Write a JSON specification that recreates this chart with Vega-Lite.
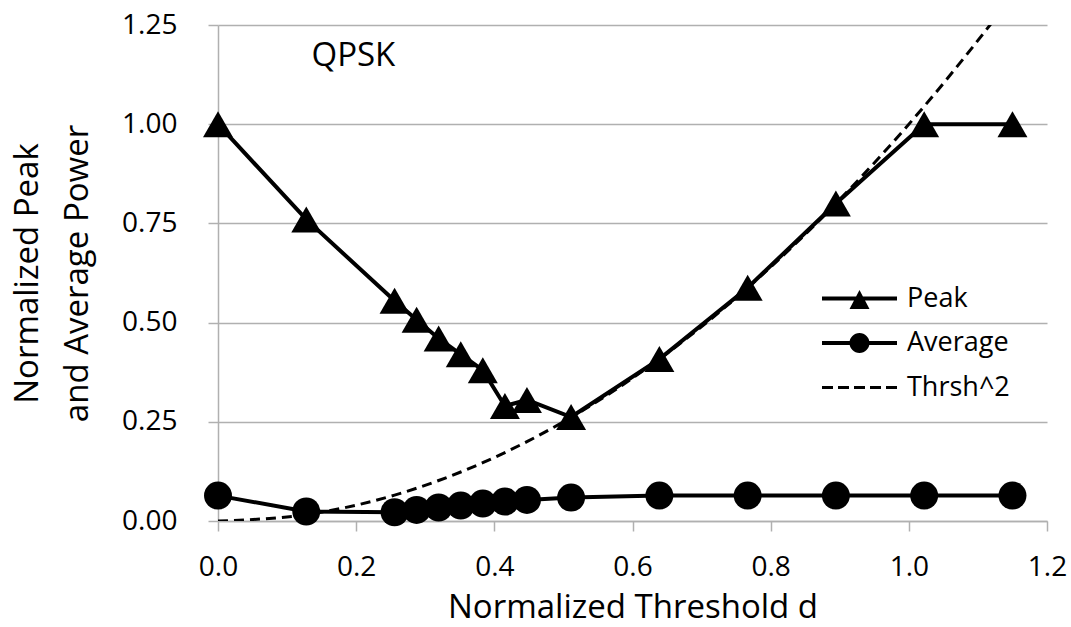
{
  "$schema": "https://vega.github.io/schema/vega-lite/v6.json",
  "width": 829,
  "height": 496,
  "autosize": {"type": "none"},
  "padding": {"left": 218, "top": 25, "right": 24, "bottom": 106},
  "background": "white",
  "config": {
    "font": "Open Sans",
    "view": {"stroke": null},
    "axis": {
      "labelColor": "black",
      "titleColor": "black",
      "titleFontWeight": "normal",
      "labelFont": "Open Sans",
      "titleFont": "Open Sans",
      "domainColor": "#b0b0b0",
      "domainWidth": 1.5,
      "tickColor": "#b0b0b0",
      "tickWidth": 1.5,
      "tickSize": 10,
      "gridColor": "#b0b0b0",
      "gridWidth": 1.5,
      "labelFontSize": 28,
      "titleFontSize": 33,
      "labelOverlap": false,
      "labelFlush": false
    }
  },
  "datasets": {
    "main": [
      {"d": 0.0, "series": "Peak", "v": 1.0},
      {"d": 0.1278, "series": "Peak", "v": 0.76},
      {"d": 0.2556, "series": "Peak", "v": 0.555},
      {"d": 0.2875, "series": "Peak", "v": 0.507},
      {"d": 0.3194, "series": "Peak", "v": 0.46},
      {"d": 0.3514, "series": "Peak", "v": 0.42},
      {"d": 0.3833, "series": "Peak", "v": 0.38},
      {"d": 0.4153, "series": "Peak", "v": 0.29},
      {"d": 0.4472, "series": "Peak", "v": 0.305},
      {"d": 0.5111, "series": "Peak", "v": 0.262},
      {"d": 0.6389, "series": "Peak", "v": 0.408},
      {"d": 0.7667, "series": "Peak", "v": 0.588},
      {"d": 0.8944, "series": "Peak", "v": 0.8},
      {"d": 1.0222, "series": "Peak", "v": 1.0},
      {"d": 1.15, "series": "Peak", "v": 1.0},
      {"d": 0.0, "series": "Average", "v": 0.064},
      {"d": 0.1278, "series": "Average", "v": 0.024},
      {"d": 0.2556, "series": "Average", "v": 0.022},
      {"d": 0.2875, "series": "Average", "v": 0.028},
      {"d": 0.3194, "series": "Average", "v": 0.034},
      {"d": 0.3514, "series": "Average", "v": 0.039},
      {"d": 0.3833, "series": "Average", "v": 0.044},
      {"d": 0.4153, "series": "Average", "v": 0.049},
      {"d": 0.4472, "series": "Average", "v": 0.053},
      {"d": 0.5111, "series": "Average", "v": 0.059},
      {"d": 0.6389, "series": "Average", "v": 0.064},
      {"d": 0.7667, "series": "Average", "v": 0.064},
      {"d": 0.8944, "series": "Average", "v": 0.064},
      {"d": 1.0222, "series": "Average", "v": 0.064},
      {"d": 1.15, "series": "Average", "v": 0.064},
      {"d": 0.0, "series": "Thrsh^2", "v": 0.0},
      {"d": 0.1278, "series": "Thrsh^2", "v": 0.0163},
      {"d": 0.2556, "series": "Thrsh^2", "v": 0.0653},
      {"d": 0.2875, "series": "Thrsh^2", "v": 0.0827},
      {"d": 0.3194, "series": "Thrsh^2", "v": 0.102},
      {"d": 0.3514, "series": "Thrsh^2", "v": 0.1235},
      {"d": 0.3833, "series": "Thrsh^2", "v": 0.1469},
      {"d": 0.4153, "series": "Thrsh^2", "v": 0.1725},
      {"d": 0.4472, "series": "Thrsh^2", "v": 0.2},
      {"d": 0.5111, "series": "Thrsh^2", "v": 0.2612},
      {"d": 0.6389, "series": "Thrsh^2", "v": 0.4082},
      {"d": 0.7667, "series": "Thrsh^2", "v": 0.5878},
      {"d": 0.8944, "series": "Thrsh^2", "v": 0.8},
      {"d": 1.0222, "series": "Thrsh^2", "v": 1.0449},
      {"d": 1.15, "series": "Thrsh^2", "v": 1.3225}
    ],
    "note": [{"d": 0.196, "v": 1.172, "label": "QPSK"}]
  },
  "encoding": {
    "x": {
      "field": "d",
      "type": "quantitative",
      "scale": {"domain": [0, 1.2], "nice": false, "zero": false},
      "axis": {
        "title": "Normalized Threshold d",
        "values": [0, 0.2, 0.4, 0.6, 0.8, 1.0, 1.2],
        "format": ".1f",
        "grid": false,
        "labelPadding": 22,
        "titlePadding": 10
      }
    },
    "y": {
      "field": "v",
      "type": "quantitative",
      "scale": {"domain": [0, 1.25], "nice": false},
      "axis": {
        "title": ["Normalized Peak", "and Average Power"],
        "values": [0, 0.25, 0.5, 0.75, 1.0, 1.25],
        "format": ".2f",
        "grid": true,
        "labelPadding": 31,
        "titlePadding": 27,
        "titleLineHeight": 50
      }
    }
  },
  "layer": [
    {
      "data": {"name": "main"},
      "transform": [{"filter": "datum.series === 'Thrsh^2'"}],
      "mark": {"type": "line", "interpolate": "monotone", "color": "black", "strokeWidth": 3, "strokeDash": [10, 6], "clip": true},
      "encoding": {}
    },
    {
      "data": {"name": "main"},
      "transform": [{"filter": "datum.series !== 'Thrsh^2'"}],
      "mark": {"type": "line", "color": "black", "strokeWidth": 4},
      "encoding": {"detail": {"field": "series", "type": "nominal"}}
    },
    {
      "data": {"name": "main"},
      "transform": [{"filter": "datum.series === 'Peak'"}],
      "mark": {"type": "point", "filled": true, "color": "black", "opacity": 1, "size": 900, "shape": "triangle-up"},
      "encoding": {}
    },
    {
      "data": {"name": "main"},
      "transform": [{"filter": "datum.series === 'Average'"}],
      "mark": {"type": "point", "filled": true, "color": "black", "opacity": 1, "size": 784, "shape": "circle"},
      "encoding": {}
    },
    {
      "data": {"name": "main"},
      "mark": {"type": "point", "filled": true, "fill": "black", "strokeWidth": 0, "opacity": 0},
      "encoding": {
        "shape": {
          "field": "series",
          "type": "nominal",
          "scale": {
            "domain": ["Peak", "Average", "Thrsh^2"],
            "range": [
              "M-3.75,-0.2H3.75V0.2H-3.75ZM0,-0.85L1,1.05L-1,1.05Z",
              "M-3.75,-0.2H3.75V0.2H-3.75ZM-1,0A1,1,0,1,1,1,0A1,1,0,1,1,-1,0Z",
              "M-3.75,-0.15H-2.65V0.15H-3.75ZM-2.15,-0.15H-1.05V0.15H-2.15ZM-0.55,-0.15H0.55V0.15H-0.55ZM1.05,-0.15H2.15V0.15H1.05ZM2.65,-0.15H3.75V0.15H2.65Z"
            ]
          },
          "legend": {
            "title": null,
            "orient": "none",
            "legendX": 628,
            "legendY": 260,
            "padding": 0,
            "symbolSize": 400,
            "symbolStrokeWidth": 0,
            "symbolFillColor": "black",
            "symbolOpacity": 1,
            "labelFontSize": 27,
            "labelColor": "black",
            "labelOffset": 34,
            "rowPadding": 16.5
          }
        }
      }
    },
    {
      "data": {"name": "note"},
      "mark": {"type": "text", "fontSize": 33, "font": "Open Sans", "align": "center", "baseline": "middle", "color": "black"},
      "encoding": {"text": {"field": "label", "type": "nominal"}}
    }
  ]
}
